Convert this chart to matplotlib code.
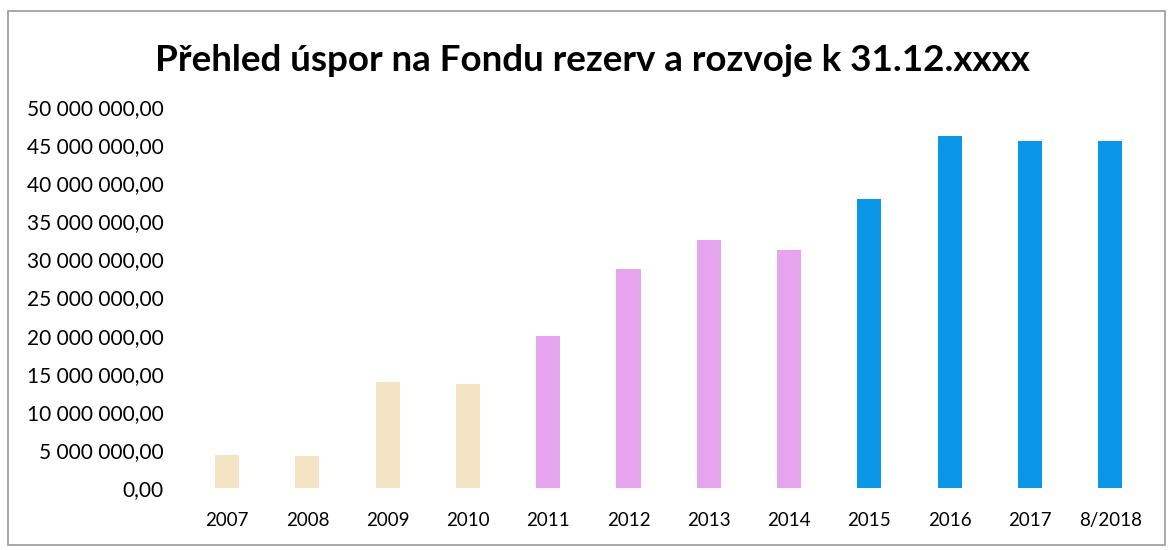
import matplotlib
matplotlib.use("Agg")
import matplotlib.pyplot as plt
from matplotlib.patches import Rectangle
from matplotlib.ticker import FuncFormatter, MultipleLocator

# hodnoty odhadnuté z obrázku
roky = ["2007", "2008", "2009", "2010", "2011", "2012", "2013", "2014",
        "2015", "2016", "2017", "8/2018"]
uspory = [4.3e6, 4.2e6, 13.9e6, 13.7e6, 19.9e6, 28.8e6, 32.5e6, 31.3e6,
          37.9e6, 46.2e6, 45.5e6, 45.6e6]
barvy = ["#f4e4c3"] * 4 + ["#e6a4ef"] * 4 + ["#0a97e7"] * 4


def cz_format(v, pos):
    # 50 000 000,00
    s = f"{v:,.2f}"
    return s.replace(",", " ").replace(".", ",")


def main():
    plt.rcParams["font.family"] = ["Lato", "DejaVu Sans"]
    fig = plt.figure(figsize=(11.69, 5.5), dpi=100)
    ax = fig.add_axes([0.16, 0.1127, 0.824, 0.6927])

    ax.bar(range(len(roky)), uspory, width=0.3, color=barvy)
    ax.set_xlim(-0.5, len(roky) - 0.5)
    ax.set_ylim(0, 50e6)
    ax.yaxis.set_major_locator(MultipleLocator(5e6))
    ax.yaxis.set_major_formatter(FuncFormatter(cz_format))
    ax.set_xticks(range(len(roky)))
    ax.set_xticklabels(roky)
    ax.tick_params(axis="y", length=0, pad=17, labelsize=15)
    ax.tick_params(axis="x", length=0, pad=17, labelsize=13.5)
    for s in ax.spines.values():
        s.set_visible(False)

    fig.text(0.507, 0.89, "Přehled úspor na Fondu rezerv a rozvoje k 31.12.xxxx",
             ha="center", va="center", fontsize=26.5, fontweight="bold")

    # rámeček grafu
    fig.patches.append(Rectangle((0.007, 0.01), 0.99, 0.97, transform=fig.transFigure,
                                 fill=False, edgecolor="#9a9a9a", linewidth=1.2))

    fig.savefig("out.png", dpi=100)


if __name__ == "__main__":
    main()
